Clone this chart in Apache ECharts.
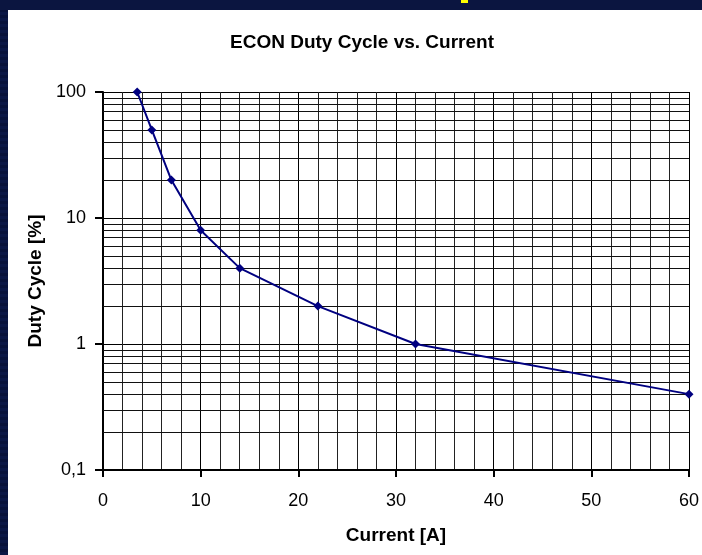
<!DOCTYPE html>
<html>
<head>
<meta charset="utf-8">
<script src="https://cdn.jsdelivr.net/npm/echarts@6/dist/echarts.min.js"></script>
<style>
  html, body { margin: 0; padding: 0; }
  body {
    width: 702px; height: 555px; overflow: hidden; position: relative;
    background: repeating-linear-gradient(180deg, #0b1745 0px, #0b1745 3px, #08123a 3px, #08123a 6px);
  }
  #top { position: absolute; left: 0; top: 0; width: 702px; height: 10px; background: #0b1540; }
  #mark { position: absolute; left: 461px; top: 0; width: 7px; height: 3px; background: #ffff00; }
  #chart { position: absolute; left: 8px; top: 10px; width: 694px; height: 545px; background: #fff; }
</style>
</head>
<body>
<div id="top"></div>
<div id="mark"></div>
<div id="chart"></div>
<script>
var currentA = [3.5, 5, 7, 10, 14, 22, 32, 60]
var dutyCycle = [100, 50, 20, 8, 4, 2, 1, 0.4]
var yTicks = [0.1, 1, 10, 100]
var yTickLabels = ['0,1', '1', '10', '100']

// minor log gridlines 2..9 in each decade
var minorLines = []
for (let d = 0; d < yTicks.length - 1; d++) {
  for (let k = 2; k <= 9; k++) {
    minorLines.push({ yAxis: +(yTicks[d] * k).toPrecision(3) })
  }
}

var chart = echarts.init(document.getElementById('chart'))
var font = 'Liberation Sans, Arial, sans-serif'

var option = {
  animation: false,
  title: {
    text: 'ECON Duty Cycle vs. Current',
    left: 349,
    top: 18,
    textAlign: 'center',
    textStyle: { fontFamily: font, fontSize: 19, fontWeight: 'bold', color: '#000' }
  },
  grid: { left: 95, right: 12, top: 82, bottom: 85 },
  xAxis: {
    type: 'value',
    min: 0,
    max: 60,
    interval: 10,
    name: 'Current [A]',
    nameLocation: 'middle',
    nameGap: 56,
    nameTextStyle: { fontFamily: font, fontSize: 19, fontWeight: 'bold', color: '#000' },
    axisLine: { show: true, onZero: false, lineStyle: { color: '#000', width: 2 } },
    axisTick: { show: true, length: 7, lineStyle: { color: '#000', width: 2 } },
    axisLabel: { margin: 22, fontFamily: font, fontSize: 18, color: '#000' },
    splitLine: { show: true, lineStyle: { color: '#000', width: 1 } },
    minorTick: { show: false, splitNumber: 5 },
    minorSplitLine: { show: true, lineStyle: { color: '#222', width: 1 } }
  },
  yAxis: {
    type: 'log',
    logBase: 10,
    min: 0.1,
    max: 100,
    name: 'Duty Cycle [%]',
    nameLocation: 'middle',
    nameGap: 56,
    nameTextStyle: { fontFamily: font, fontSize: 19, fontWeight: 'bold', color: '#000' },
    axisLine: { show: true, lineStyle: { color: '#000', width: 2 } },
    axisTick: { show: true, length: 8, lineStyle: { color: '#000', width: 2 } },
    axisLabel: {
      margin: 17,
      fontFamily: font,
      fontSize: 18,
      color: '#000',
      formatter: function (v) {
        var i = yTicks.findIndex(function (t) { return Math.abs(t - v) < 1e-9 })
        return i >= 0 ? yTickLabels[i] : ''
      }
    },
    splitLine: { show: true, lineStyle: { color: '#000', width: 1 } }
  },
  series: [
    {
      type: 'line',
      data: currentA.map(function (x, i) { return [x, dutyCycle[i]] }),
      symbol: 'diamond',
      symbolSize: 9,
      itemStyle: { color: '#000080' },
      lineStyle: { color: '#000080', width: 2 },
      z: 5,
      markLine: {
        silent: true,
        symbol: 'none',
        label: { show: false },
        lineStyle: { color: '#111', width: 1, type: 'solid' },
        emphasis: { disabled: true },
        data: minorLines,
        z: 1
      }
    }
  ]
}
chart.setOption(option)
</script>
</body>
</html>
